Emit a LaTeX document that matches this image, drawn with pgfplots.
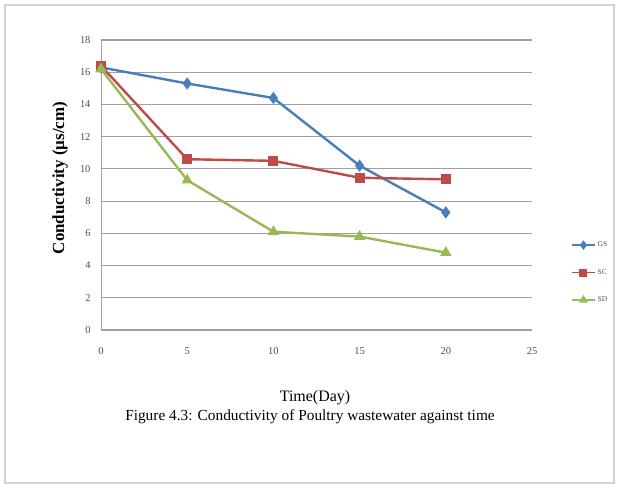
\documentclass[border=0pt]{standalone}
\usepackage{fontspec}
\setmainfont{Liberation Serif}
\usepackage{pgfplots}
\pgfplotsset{compat=1.18}
\definecolor{gsblue}{RGB}{74,126,187}
\definecolor{scred}{RGB}{190,75,72}
\definecolor{sdgreen}{RGB}{152,185,84}
\definecolor{gridgray}{RGB}{160,160,160}
\definecolor{txtgray}{RGB}{80,80,80}
\begin{document}
\begin{tikzpicture}
\fill[white] (-101bp,-161bp) rectangle (517bp,330bp);
\draw[gray!35, line width=1.2bp] (-96bp,-153bp) rectangle (513bp,325bp);
\begin{axis}[
  at={(0,0)}, anchor=origin,
  scale only axis,
  width=431bp, height=290bp,
  xmin=0, xmax=25, ymin=0, ymax=18,
  xtick={0,5,...,25}, ytick={0,2,...,18},
  axis x line*=bottom, axis y line*=left,
  axis line style={gridgray, -, line width=1bp},
  ymajorgrids, grid style={gridgray, line width=1.2bp},
  major tick length=0pt,
  tick label style={font=\fontsize{10.5}{11}\selectfont, text=txtgray},
  /pgf/number format/assume math mode=true,
  xticklabel style={yshift=-14bp},
  yticklabel style={xshift=-7bp},
  legend style={at={(1.135,0.198)}, anchor=center, draw=none, fill=none,
    font=\fontsize{7.5}{8}\selectfont, row sep=17bp, text=txtgray, inner sep=0pt},
  legend cell align=left,
  legend image code/.code={\draw[#1, line width=1.6bp] (0bp,0bp) -- (23bp,0bp); \draw[#1, only marks, mark size=2.8bp] plot coordinates {(11.5bp,0bp)};},
  every axis plot/.append style={line width=2.4bp},
  clip=false,
]
\addplot[gsblue, mark=diamond*, mark size=4.2bp] coordinates {(0,16.3) (5,15.3) (10,14.4) (15,10.2) (20,7.3)};
\addlegendentry{GS}
\addplot[scred, mark=square*, mark size=3.8bp] coordinates {(0,16.4) (5,10.6) (10,10.5) (15,9.45) (20,9.35)};
\addlegendentry{SC}
\addplot[sdgreen, mark=triangle*, mark size=4.2bp] coordinates {(0,16.2) (5,9.3) (10,6.1) (15,5.8) (20,4.8)};
\addlegendentry{SD}
\end{axis}
\node[font=\fontsize{17}{19}\selectfont\bfseries, rotate=90] at (-41bp,152bp) {Conductivity (µs/cm)};
\node[font=\fontsize{16}{18}\selectfont] at (214bp,-68bp) {Time(Day)};
\node[font=\fontsize{15.4}{17}\selectfont] at (209bp,-87bp) {Figure 4.3: Conductivity of Poultry wastewater against time};
\end{tikzpicture}
\end{document}
